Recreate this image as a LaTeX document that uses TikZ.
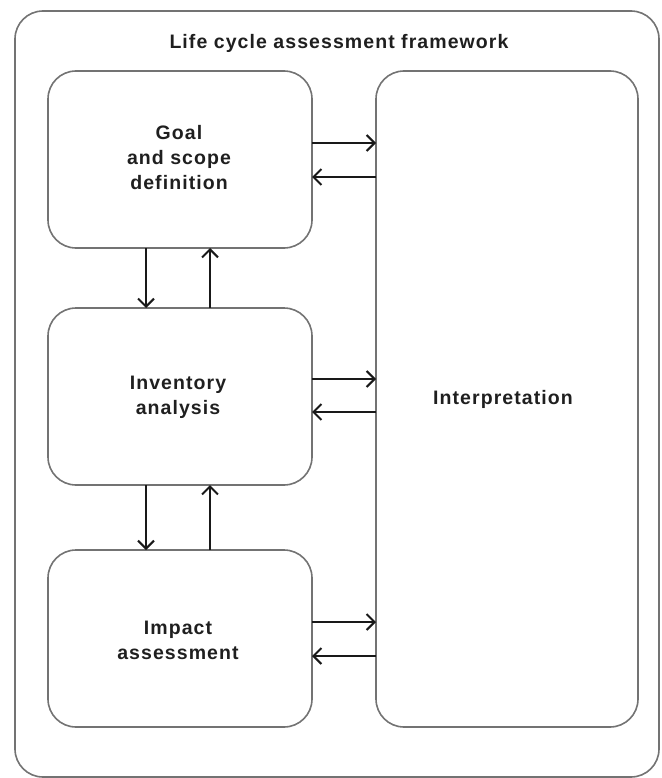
\documentclass[tikz,border=0pt]{standalone}
\usepackage{fontspec}
\setmainfont[LetterSpace=5.5]{Liberation Sans}
\usetikzlibrary{arrows.meta}
\begin{document}
\begin{tikzpicture}[x=1pt,y=-1pt,
  box/.style={draw=black!55,line width=1.6pt,rounded corners=28pt},
  lbl/.style={font=\fontsize{19.5}{25}\selectfont\bfseries,align=center,text=black!88},
  arr/.style={draw=black!90,line width=2pt,-{Straight Barb[length=8pt,width=16pt,line width=2pt]}}]
\useasboundingbox (0,0) rectangle (661,778);
\draw[draw=black!55,line width=1.6pt,rounded corners=28pt] (15,11) rectangle (659,777);
\node[lbl] (title) at (339,43) {Life cycle assessment framework};
\draw[box] (48,71) rectangle (312,248);
\draw[box] (48,308) rectangle (312,485);
\draw[box] (48,550) rectangle (312,727);
\draw[box] (376,71) rectangle (638,727);
\node[lbl] (goal) at (179,158) {Goal\\and scope\\definition};
\node[lbl] (inv) at (178,397) {Inventory\\analysis};
\node[lbl] (imp) at (178,640) {Impact\\assessment};
\node[lbl] (interp) at (503,399) {Interpretation};
% named anchors on box edges
\coordinate (gR1) at (312,143); \coordinate (iL1) at (376,143);
\coordinate (gR2) at (312,177); \coordinate (iL2) at (376,177);
\coordinate (vR1) at (312,379); \coordinate (iL3) at (376,379);
\coordinate (vR2) at (312,412); \coordinate (iL4) at (376,412);
\coordinate (mR1) at (312,622); \coordinate (iL5) at (376,622);
\coordinate (mR2) at (312,656); \coordinate (iL6) at (376,656);
\coordinate (gB1) at (146,248); \coordinate (vT1) at (146,308);
\coordinate (gB2) at (210,248); \coordinate (vT2) at (210,308);
\coordinate (vB1) at (146,485); \coordinate (mT1) at (146,550);
\coordinate (vB2) at (210,485); \coordinate (mT2) at (210,550);
\draw[arr] (gR1) -- (iL1);
\draw[arr] (iL2) -- (gR2);
\draw[arr] (vR1) -- (iL3);
\draw[arr] (iL4) -- (vR2);
\draw[arr] (mR1) -- (iL5);
\draw[arr] (iL6) -- (mR2);
\draw[arr] (gB1) -- (vT1);
\draw[arr] (vT2) -- (gB2);
\draw[arr] (vB1) -- (mT1);
\draw[arr] (mT2) -- (vB2);
\end{tikzpicture}
\end{document}
